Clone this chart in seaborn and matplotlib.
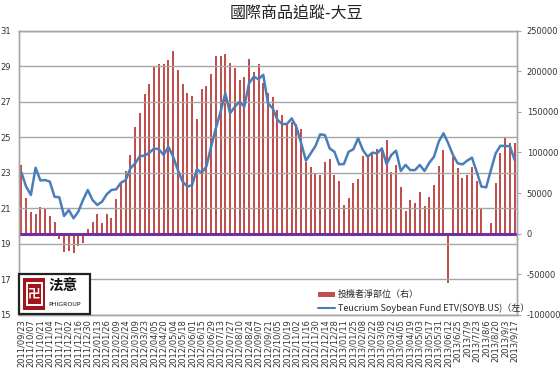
import numpy as np
import pandas as pd
import matplotlib
matplotlib.use('Agg')
import matplotlib.pyplot as plt
import seaborn as sns
from matplotlib.patches import Patch, Rectangle
from matplotlib.lines import Line2D
from matplotlib.font_manager import FontProperties

sns.set_theme(style='white')
plt.rcParams['font.family'] = ['DejaVu Sans', 'Noto Sans CJK TC']
CJK = ['Noto Sans CJK TC', 'DejaVu Sans']

title = '國際商品追蹤-大豆'
bar_label = '投機者淨部位（右）'
line_label = 'Teucrium Soybean Fund ETV(SOYB.US)（左）'

date_labels = [
    '2011/09/23', '2011/10/07', '2011/10/21', '2011/11/04', '2011/11/17', '2011/12/02',
    '2011/12/16', '2011/12/30', '2012/01/13', '2012/01/26', '2012/02/09', '2012/02/24',
    '2012/03/09', '2012/03/23', '2012/04/05', '2012/04/20', '2012/05/04', '2012/05/18',
    '2012/06/01', '2012/06/15', '2012/06/29', '2012/07/13', '2012/07/27', '2012/08/10',
    '2012/08/24', '2012/09/07', '2012/09/21', '2012/10/05', '2012/10/19', '2012/11/02',
    '2012/11/16', '2012/11/30', '2012/12/14', '2012/12/28', '2013/01/11', '2013/01/25',
    '2013/02/08', '2013/02/22', '2013/03/08', '2013/03/22', '2013/04/05', '2013/04/19',
    '2013/05/03', '2013/05/17', '2013/05/31', '2013/06/12', '2013/6/25', '2013/7/9',
    '2013/7/23', '2013/8/6', '2013/8/20', '2013/9/3', '2013/9/17']

net_position = [
    85100, 43700, 26900, 24100, 32700, 30200, 21200, 14200, -6200, -22600,
    -21800, -23400, -15200, -12000, 5600, 14600, 24500, 13400, 24500, 19200,
    42900, 62600, 77700, 96500, 131300, 148500, 172300, 184600, 206200, 208300,
    209100, 213600, 224200, 200900, 184600, 173500, 169000, 141100, 177600, 181600,
    196800, 218900, 218900, 220900, 209900, 204200, 188600, 192300, 215300, 198400,
    208300, 185000, 173500, 167700, 151800, 146000, 135400, 137000, 135000, 129300,
    88300, 82200, 74000, 72800, 87900, 92400, 72000, 64600, 35100, 43700,
    61800, 66700, 95700, 94400, 98600, 104700, 104700, 114900, 75600, 84600,
    57200, 28100, 40900, 37600, 51900, 33500, 44600, 60500, 83000, 102700,
    -60700, 94400, 81400, 68300, 72800, 82200, 65400, 30600, 0, 12600,
    61800, 99800, 119500, 112000, 112100]

soyb_price = [
    23.02, 22.22, 21.75, 23.28, 22.57, 22.59, 22.50, 21.65, 21.62, 20.57,
    20.90, 20.44, 20.81, 21.47, 22.03, 21.47, 21.19, 21.37, 21.79, 22.03,
    22.07, 22.44, 22.59, 23.25, 23.53, 23.94, 23.96, 24.13, 24.37, 24.32,
    24.00, 24.46, 23.90, 23.15, 22.50, 22.22, 22.31, 23.19, 23.00, 23.35,
    24.46, 25.50, 26.43, 27.47, 26.34, 26.71, 27.00, 26.71, 28.03, 28.40,
    28.26, 28.51, 26.90, 26.62, 25.97, 25.74, 25.74, 26.06, 25.56, 24.66,
    23.68, 24.09, 24.50, 25.16, 25.12, 24.37, 24.18, 23.47, 23.49, 24.18,
    24.32, 24.94, 24.28, 23.90, 24.13, 24.09, 24.37, 23.49, 24.00, 24.24,
    23.10, 23.44, 23.15, 23.15, 23.44, 23.10, 23.56, 23.90, 24.75, 25.22,
    24.66, 24.00, 23.53, 23.47, 23.68, 23.85, 23.06, 22.22, 22.18, 23.15,
    24.09, 24.52, 24.50, 24.50, 23.72]

left_ticks = [15, 17, 19, 21, 23, 25, 27, 29, 31]
right_ticks = [-100000, -50000, 0, 50000, 100000, 150000, 200000, 250000]

n = len(net_position)
df = pd.DataFrame({'idx': np.arange(n), 'net': net_position, 'price': soyb_price})

W, H = 560, 368
fig = plt.figure(figsize=(W / 100, H / 100), dpi=100)
fig.patch.set_facecolor('white')
ax = fig.add_axes([19 / W, 1 - 315 / H, 498 / W, 284.5 / H])
ax2 = ax.twinx()

bar_color = '#C0504D'
line_color = '#4A7EBB'
grid_color = '#A6A6A6'

# bars (right axis)
sns.barplot(data=df, x='idx', y='net', ax=ax2, color=bar_color, width=0.42,
            native_scale=True, saturation=1, linewidth=0)
ax2.axhline(0, color='#7030A0', lw=2.2, zorder=5)
ax2.set_ylim(right_ticks[0], right_ticks[-1])
ax2.set_yticks(right_ticks)
ax2.set_yticklabels([str(v) for v in right_ticks])
ax2.set_ylabel('')

# line (left axis)
sns.lineplot(data=df, x='idx', y='price', ax=ax, color=line_color, lw=1.8, sort=False)
ax.set_ylim(left_ticks[0], left_ticks[-1])
ax.set_yticks(left_ticks)
ax.set_yticklabels([str(v) for v in left_ticks])
ax.set_ylabel('')
ax.set_xlabel('')
ax2.set_xlabel('')

ax.set_zorder(ax2.get_zorder() + 1)
ax.patch.set_visible(False)

ax.set_xlim(-0.5, n - 0.5)
ax.set_xticks(np.arange(0, n, 2))
ax.set_xticklabels(date_labels, rotation=90, fontsize=6, va='top', ha='center', color='#333333')
ax.tick_params(axis='x', length=0, pad=3)
ax.tick_params(axis='y', length=0, pad=6, labelsize=6, labelcolor='#333333')
ax2.tick_params(axis='y', length=3, width=0.8, color=grid_color, direction='out', pad=4,
                labelsize=6, labelcolor='#333333', right=True)

ax.yaxis.grid(True, color=grid_color, lw=1)
ax.xaxis.grid(False)
ax2.grid(False)
for a in (ax, ax2):
    for s in a.spines.values():
        s.set_color(grid_color)
        s.set_linewidth(1)

# legend
handles = [Patch(facecolor=bar_color, edgecolor='none'),
           Line2D([], [], color=line_color, lw=1.5)]
leg = ax.legend(handles, [bar_label, line_label], loc='upper left',
                bbox_to_anchor=(312 / W, 1 - 284 / H), bbox_transform=fig.transFigure,
                frameon=False, prop=FontProperties(family=CJK, size=6.5),
                handlelength=1.9, handleheight=0.5, labelspacing=0.45, handletextpad=0.3,
                borderpad=0.2)

# title
fig.text(296 / W, 1 - 14 / H, title, ha='center', va='center', fontsize=11.5,
         family=CJK, color='#222222')

# logo box (decoration)
fig.add_artist(Rectangle((19 / W, 1 - 314 / H), 71 / W, 40 / H, transform=fig.transFigure,
                         facecolor='white', edgecolor='#222222', lw=1.6, zorder=20))
fig.add_artist(Rectangle((23 / W, 1 - 310 / H), 22 / W, 32 / H, transform=fig.transFigure,
                         facecolor='#A3141C', edgecolor='none', zorder=21))
fig.add_artist(Rectangle((26.5 / W, 1 - 305 / H), 15 / W, 22 / H, transform=fig.transFigure,
                         facecolor='none', edgecolor='white', lw=1.4, zorder=22))
fig.text(34 / W, 1 - 294 / H, '卍', ha='center', va='center', fontsize=9, color='white',
         family=CJK, zorder=23, fontweight='bold')
fig.text(48 / W, 1 - 286 / H, '法意', ha='left', va='center', fontsize=10.5,
         family=CJK, fontweight='bold', color='#111111', zorder=23)
fig.text(48 / W, 1 - 304 / H, 'PHIGROUP', ha='left', va='center', fontsize=4.5,
         color='#111111', zorder=23)

fig.savefig('out.png', dpi=100, facecolor='white')
